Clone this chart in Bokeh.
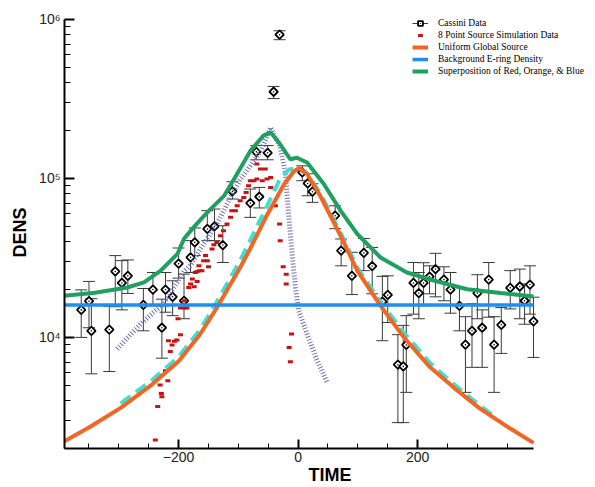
import math

from bokeh.plotting import figure
from bokeh.models import FixedTicker, Legend, LegendItem
from bokeh.embed import file_html
from bokeh.resources import INLINE

# Cassini measurements with lower / upper error limits
cassini_time = [-363, -350, -346, -316, -306, -295, -285, -259, -243, -228, -222, -210, -200,
                -191, -180, -173, -152, -140, -126, -110, -80, -70, -65, -51, -41, -31,
                7, 16, 24, 62, 72, 90, 110, 124, 141, 150, 167, 176, 181, 193, 202, 210,
                220, 230, 244, 255, 270, 280, 291, 300, 308, 319, 328, 340, 355, 371, 379,
                388, 394]
cassini_dens = [14900, 16900, 11000, 11200, 26000, 22000, 24400, 16000, 20000, 11500, 20000,
                18000, 29100, 17000, 31900, 39600, 48100, 49900, 38100, 82800, 70000, 147000,
                76700, 145000, 351000, 802000, 109000, 93000, 82500, 58300, 35100, 24400,
                34000, 28100, 16800, 18500, 6730, 6570, 8960, 22000, 19000, 22000, 24100,
                26900, 23100, 20000, 15800, 9000, 11000, 19000, 11500, 23100, 9000, 12000,
                20500, 20900, 17000, 21500, 12600]
cassini_low = [10000, 11500, 5900, 6100, 15600, 14900, 18900, 11000, 15800, 7400, 14400,
               13700, 23600, 13100, 25600, 32700, 40600, 40600, 29600, 74200, 56900, 131000,
               65200, 131000, 318000, 746000, 96700, 77800, 70700, 48300, 28200, 18600,
               26300, 18800, 9530, 12400, 2910, 2910, 4510, 14000, 13100, 15800, 18800,
               18000, 17000, 14200, 11000, 4510, 6480, 13100, 6480, 13400, 4510, 7930,
               15100, 13100, 12100, 14000, 7480]
cassini_high = [19900, 22500, 17500, 15700, 32700, 30400, 30700, 20300, 25600, 17400, 25600,
                22700, 36500, 25000, 40600, 48800, 62700, 64200, 50400, 95300, 85800, 161000,
                87800, 161000, 379000, 849000, 120000, 107000, 92600, 67300, 41600, 34300,
                41900, 36800, 24200, 24400, 10400, 11900, 13700, 29600, 25600, 29500, 28200,
                33800, 27800, 25600, 20600, 13500, 16300, 24800, 14900, 29600, 13500, 15400,
                26300, 26900, 21700, 28200, 17900]

# 8 point source simulation
sim_time = [-239, -235, -229, -228, -231, -222, -218, -214, -211, -217, -207, -203, -201, -197,
            -197, -190, -186, -190, -183, -180, -177, -174, -172, -169, -169, -165, -161, -166,
            -158, -155, -152, -150, -144, -141, -136, -130, -125, -119, -113, -111, -105, -102,
            -97, -91, -87, -83, -80, -74, -69, -60, -52, -46, -63, -55, -69, -46, -38, -31,
            -30, -25, -20, -20, -11, -15, -13]
sim_dens = [2260, 3680, 4440, 4240, 5020, 6170, 5340, 8160, 8960, 9530, 9440, 9630, 13100,
            10400, 15300, 15300, 15300, 17000, 20600, 21700, 23300, 20800, 25600, 22500, 26000,
            26300, 26300, 28200, 30400, 32700, 30400, 27800, 36000, 38300, 39600, 43600, 46900,
            51700, 56900, 62700, 62700, 67300, 72400, 76000, 81700, 90000, 96700, 96700, 99100,
            96700, 99100, 101500, 114600, 114600, 123200, 87800, 67300, 51700, 40600, 27800,
            25000, 21700, 10500, 8650, 7030]

# smoothed point-source envelope (dotted)
envelope_time = [-303, -286, -264, -242, -225, -208, -191, -180, -158, -136, -113, -97, -80,
                 -62, -46, -30, -21, -16, -10, -4.5, 1, 15, 32, 48.5]
envelope_dens = [8450, 9900, 12100, 14400, 16200, 20600, 26000, 28500, 38700, 51700, 76000,
                 98000, 120000, 150000, 209000, 157000, 107000, 59700, 33500, 20600, 14700,
                 10500, 7130, 5210]

# uniform global source model
uniform_time = [-391, -348, -297, -247, -200, -164, -137, -97, -80, -52, -24, -7, 2, 15, 37,
                71, 99, 138, 177, 221, 260, 305, 355, 394]
uniform_dens = [2220, 2740, 3600, 4970, 7080, 10470, 15140, 27500, 36300, 58900, 91200, 110900,
                116300, 106600, 77800, 43600, 26300, 15800, 10000, 6480, 4850, 3550, 2670, 2170]

# alternative global source fit (dashed)
fit_time = [-297, -247, -200, -164, -137, -97, -80, -52, -30, -15, 0, 15, 37, 71, 99, 138,
            177, 221, 260, 305, 330]
fit_dens = [3850, 5300, 7550, 11200, 16500, 30500, 41000, 67000, 100000, 114000, 117000,
            108000, 80500, 45500, 27500, 16700, 10700, 6900, 5100, 3700, 3150]

# background E-ring density
background_time = [-391, 394]
background_dens = [16000, 16000]

# superposition of the three components
total_time = [-391, -340, -286, -258, -230, -202, -191, -175, -152, -124, -102, -80, -58, -46,
              -30, -13, -2, 15, 43, 71, 99, 138, 182, 227, 283, 339, 394]
total_dens = [18300, 19100, 20600, 22200, 26300, 33500, 41700, 49200, 61100, 77600, 107000,
              149000, 186000, 195000, 164000, 132000, 135000, 126000, 92300, 62700, 44700,
              31800, 25600, 22800, 20100, 19000, 18100]

x_major = [-200, 0, 200]
x_minor = [-350, -300, -250, -150, -100, -50, 50, 100, 150, 250, 300, 350]
y_major = [1e4, 1e5, 1e6]
y_major_labels = ["10\u2074", "10\u2075", "10\u2076"]
y_minor = [k * 10 ** m for m in (3, 4, 5) for k in range(2, 10) if k * 10 ** m >= 2000]

# the frame runs to the right edge and a little above 10^6 so the legend has room;
# both axes stop at the data limits
p = figure(width=595, height=487, x_range=(-391, 497.7), y_range=(2000, 1.044e6),
           y_axis_type="log", output_backend="svg", toolbar_location=None,
           min_border_left=64, min_border_right=0, min_border_top=16, min_border_bottom=39)
p.outline_line_color = None
p.xgrid.visible = False
p.ygrid.visible = False
p.background_fill_color = "white"
p.border_fill_color = "white"

p.xaxis.ticker = FixedTicker(ticks=x_major, minor_ticks=x_minor)
p.xaxis.bounds = (-391, 394)
p.yaxis.ticker = FixedTicker(ticks=y_major, minor_ticks=y_minor)
p.yaxis.bounds = (2000, 1e6)
p.yaxis.major_label_overrides = {int(v): s for v, s in zip(y_major, y_major_labels)}

for ax in (p.xaxis[0], p.yaxis[0]):
    ax.axis_line_color = "black"
    ax.axis_line_width = 2
    ax.major_tick_line_color = "black"
    ax.major_tick_line_width = 2
    ax.minor_tick_line_color = "black"
    ax.minor_tick_line_width = 1
    ax.major_tick_out = 0
    ax.minor_tick_out = 0
    ax.major_label_text_font = "Liberation Sans"
    ax.major_label_text_font_size = "14px"
    ax.major_label_text_color = "#222222"
    ax.axis_label_text_font = "Liberation Sans"
    ax.axis_label_text_font_size = "18px"
    ax.axis_label_text_font_style = "bold"
    ax.axis_label_text_color = "black"

p.xaxis.major_tick_in = 9
p.xaxis.minor_tick_in = 5
p.yaxis.major_tick_in = 10
p.yaxis.minor_tick_in = 6
p.xaxis.major_label_standoff = 3
p.yaxis.major_label_standoff = 4
p.xaxis.axis_label = "TIME"
p.yaxis.axis_label = "DENS"
p.xaxis.axis_label_standoff = 0
p.yaxis.axis_label_standoff = 6

# error bars and caps
bar_color = "#3a3a3a"
err = p.segment(x0=cassini_time, y0=cassini_low, x1=cassini_time, y1=cassini_high,
                line_color=bar_color, line_width=1)
p.scatter(x=cassini_time + cassini_time, y=cassini_low + cassini_high, marker="dash",
          size=12, line_color=bar_color, line_width=1)
dia = p.scatter(x=cassini_time, y=cassini_dens, marker="square_dot", angle=math.pi / 4,
                size=6, fill_color="white", line_color="black", line_width=1.8)

p.line(envelope_time, envelope_dens, line_color="#6f6fb8", line_width=5, line_dash="1 2")
sim = p.scatter(x=sim_time, y=sim_dens, marker="dash", size=5, line_color="#cc1111",
                line_width=3)
p.line(fit_time, fit_dens, line_color="#3ee0d6", line_width=4, line_dash="12 7")
orange = p.line(uniform_time, uniform_dens, line_color="#f26522", line_width=4)
blue = p.line(background_time, background_dens, line_color="#1e8ef0", line_width=3.5)
green = p.line(total_time, total_dens, line_color="#1fa060", line_width=4)

legend = Legend(items=[
    LegendItem(label="Cassini Data", renderers=[err, dia]),
    LegendItem(label="8 Point Source Simulation Data", renderers=[sim]),
    LegendItem(label="Uniform Global Source", renderers=[orange]),
    LegendItem(label="Background E-ring Density", renderers=[blue]),
    LegendItem(label="Superposition of Red, Orange, & Blue", renderers=[green]),
], location=(348, 371))
legend.label_text_font = "Liberation Serif"
legend.label_text_font_size = "9.5px"
legend.label_text_color = "black"
legend.label_height = 12
legend.glyph_height = 12
legend.glyph_width = 16
legend.label_standoff = 10
legend.spacing = 0
legend.padding = 0
legend.margin = 0
legend.border_line_color = None
legend.background_fill_alpha = 0
p.add_layout(legend)

open("out.html", "w").write(file_html(p, INLINE))
